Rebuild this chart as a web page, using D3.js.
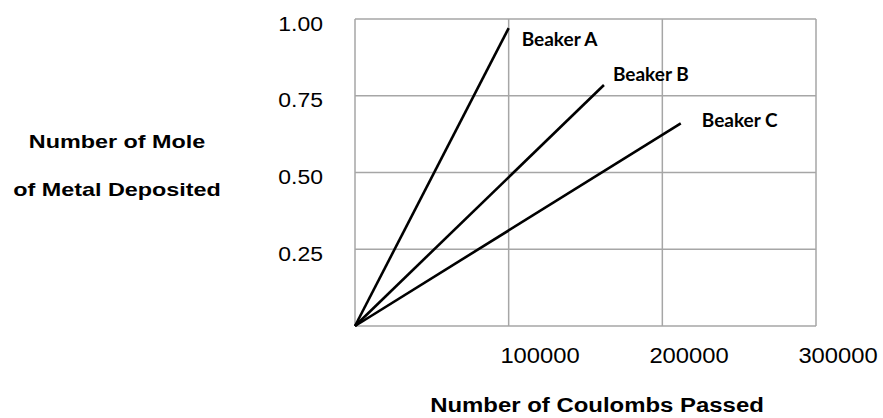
<!DOCTYPE html>
<html>
<head>
<meta charset="utf-8">
<script src="https://cdn.jsdelivr.net/npm/d3@7"></script>
<style>
  html, body { margin: 0; padding: 0; background: #fff; }
  svg { display: block; }
</style>
</head>
<body>
<div id="chart"></div>
<script>
// data
var beakers = ['Beaker A', 'Beaker B', 'Beaker C'];
var endCoulombs = [100000, 162000, 212000];
var endMoles = [0.97, 0.785, 0.66];
var xTicks = [100000, 200000, 300000];
var yTicks = [0.25, 0.5, 0.75, 1.0];

var width = 883,
  height = 418;

var svg = d3.select('#chart')
  .append('svg')
  .attr('width', width)
  .attr('height', height);

var x = d3.scaleLinear().domain([0, 300000]).range([355, 816]),
  y = d3.scaleLinear().domain([0, 1]).range([326, 19]),
  // the tick labels in the source sit a bit off their grid lines
  xLab = d3.scaleLinear().domain([100000, 300000]).range([540, 838]);

var grid = svg.append('g')
  .style('stroke', '#a6a6a6')
  .style('stroke-width', 1.5);

grid.selectAll('line.h')
  .data([0].concat(yTicks))
  .enter()
  .append('line')
  .attr('class', 'h')
  .attr('x1', x(0))
  .attr('x2', x(300000))
  .attr('y1', d => y(d))
  .attr('y2', d => y(d));

grid.selectAll('line.v')
  .data([0].concat(xTicks))
  .enter()
  .append('line')
  .attr('class', 'v')
  .attr('x1', d => x(d))
  .attr('x2', d => x(d))
  .attr('y1', y(0))
  .attr('y2', y(1));

var tickFont = 'Liberation Sans, Arial, sans-serif';

svg.append('g')
  .selectAll('text')
  .data(yTicks)
  .enter()
  .append('text')
  .attr('transform', d => 'translate(323,' + (y(d) + 11.5) + ') scale(1.12,1)')
  .attr('text-anchor', 'end')
  .style('font-family', tickFont)
  .style('font-size', '20.5px')
  .text(d3.format('.2f'));

svg.append('g')
  .selectAll('text')
  .data(xTicks)
  .enter()
  .append('text')
  .attr('transform', d => 'translate(' + xLab(d) + ',363) scale(1.08,1)')
  .attr('text-anchor', 'middle')
  .style('font-family', tickFont)
  .style('font-size', '22px')
  .text(d => d);

// axis titles
svg.append('text')
  .attr('transform', 'translate(597,412) scale(1.14,1)')
  .attr('text-anchor', 'middle')
  .style('font-family', tickFont)
  .style('font-weight', 'bold')
  .style('font-size', '21px')
  .text('Number of Coulombs Passed');

svg.append('g')
  .selectAll('text')
  .data(['Number of Mole', 'of Metal Deposited'])
  .enter()
  .append('text')
  .attr('transform', (d, i) => 'translate(117,' + (148 + i * 48) + ') scale(1.23,1)')
  .attr('text-anchor', 'middle')
  .style('font-family', tickFont)
  .style('font-weight', 'bold')
  .style('font-size', '19px')
  .text(d => d);

// the three lines, each from the origin
var line = d3.line()
  .x(d => x(d[0]))
  .y(d => y(d[1]));

var rows = beakers.map((b, i) => ({
  name: b,
  pts: [[0, 0], [endCoulombs[i], endMoles[i]]]
}));

svg.append('g')
  .selectAll('path')
  .data(rows)
  .enter()
  .append('path')
  .attr('d', d => line(d.pts))
  .style('fill', 'none')
  .style('stroke', '#000')
  .style('stroke-width', 2.6);

var labelOffsets = [[13, 18], [9, -4], [21, 4]];

svg.append('g')
  .selectAll('text')
  .data(rows)
  .enter()
  .append('text')
  .attr('x', (d, i) => x(d.pts[1][0]) + labelOffsets[i][0])
  .attr('y', (d, i) => y(d.pts[1][1]) + labelOffsets[i][1])
  .style('font-family', 'Lato, Carlito, sans-serif')
  .style('font-weight', 'bold')
  .style('font-size', '19px')
  .text(d => d.name);
</script>
</body>
</html>
